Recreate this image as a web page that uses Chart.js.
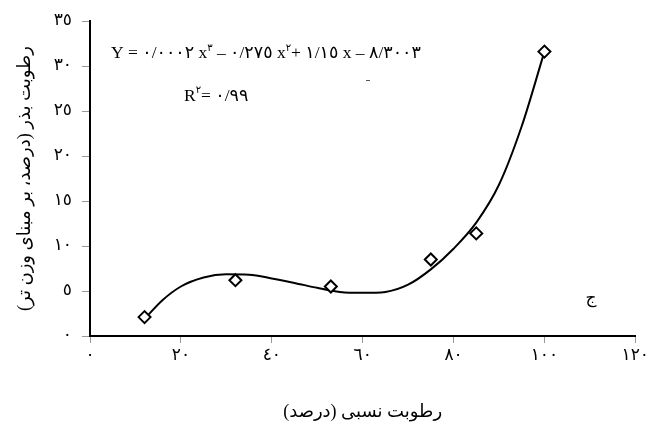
<!DOCTYPE html>
<html>
<head>
<meta charset="utf-8">
<script src="https://cdn.jsdelivr.net/npm/chart.js@4/dist/chart.umd.min.js"></script>
<style>
  html, body { margin: 0; padding: 0; background: #fff; }
  #wrap { width: 651px; height: 428px; }
</style>
</head>
<body>
<div id="wrap"><canvas id="chart"></canvas></div>
<script>
// measured points (relative humidity %, seed moisture %)
const pointX = [12, 32, 53, 75, 85, 100]
const pointY = [2.1, 6.2, 5.5, 8.5, 11.4, 31.6]

// fitted curve
const curveX = [12, 16, 20, 25, 30, 35, 40, 45, 50, 55, 60, 65, 70, 75, 80, 85, 90, 95, 100]
const curveY = [1.9, 4.0, 5.5, 6.5, 6.85, 6.8, 6.4, 5.9, 5.35, 4.9, 4.8, 4.9, 5.7, 7.4, 9.7, 12.6, 16.8, 23.3, 31.6]

// tick labels
const xTickValues = [0, 20, 40, 60, 80, 100, 120]
const xTickLabels = ["٠", "٢٠", "٤٠", "٦٠", "٨٠", "١٠٠", "١٢٠"]
const yTickValues = [0, 5, 10, 15, 20, 25, 30, 35]
const yTickLabels = ["٠", "٥", "١٠", "١٥", "٢٠", "٢٥", "٣٠", "٣٥"]

const xTitle = "رطوبت نسبی (درصد)"
const yTitle = "رطوبت بذر (درصد، بر مبنای وزن تر)"
const panelLabel = "ج"

const serif = '"Liberation Serif", "DejaVu Sans", serif'

function tickLabel(values, labels, v) {
  const i = values.indexOf(v)
  return i >= 0 ? labels[i] : ""
}

// equation and R² drawn over the plot
const annotations = {
  id: "annotations",
  afterDraw(chart) {
    const ctx = chart.ctx
    ctx.save()
    ctx.fillStyle = "#000"
    ctx.textBaseline = "alphabetic"
    ctx.textAlign = "left"
    ctx.direction = "ltr"

    const big = "17.5px " + serif
    const small = "10px " + serif
    const parts = [
      [big, "Y = ٠/٠٠٠٢ x", 0],
      [small, "٣", -7],
      [big, " – ٠/٢٧٥ x", 0],
      [small, "٢", -7],
      [big, "+ ١/١٥ x – ٨/٣٠٠٣", 0],
    ]
    let x = 111
    const base = 58
    parts.forEach(([f, t, dy]) => {
      ctx.font = f
      ctx.fillText(t, x, base + dy)
      x += ctx.measureText(t).width
    })

    const rParts = [
      [big, "R", 0],
      [small, "٢", -8],
      [big, "= ٠/٩٩", 0],
    ]
    x = 184
    const rBase = 101
    rParts.forEach(([f, t, dy]) => {
      ctx.font = f
      ctx.fillText(t, x, rBase + dy)
      x += ctx.measureText(t).width
    })

    ctx.fillStyle = "#555"
    ctx.fillRect(366, 80, 4, 1)

    ctx.fillStyle = "#000"
    ctx.font = "17px " + serif
    ctx.textAlign = "center"
    ctx.fillText(panelLabel, 591, 303)
    ctx.restore()
  },
}

const ctx = document.getElementById("chart").getContext("2d")
new Chart(ctx, {
  type: "scatter",
  data: {
    datasets: [
      {
        label: "points",
        data: pointX.map((x, i) => ({ x, y: pointY[i] })),
        pointStyle: "rectRot",
        pointRadius: 6,
        pointBorderWidth: 2,
        pointBorderColor: "#000",
        pointBackgroundColor: "#fff",
        showLine: false,
      },
      {
        label: "fit",
        data: curveX.map((x, i) => ({ x, y: curveY[i] })),
        showLine: true,
        borderColor: "#000",
        borderWidth: 2,
        pointRadius: 0,
        cubicInterpolationMode: "monotone",
      },
    ],
  },
  options: {
    responsive: true,
    maintainAspectRatio: false,
    animation: false,
    events: [],
    layout: { padding: { left: 0, top: 21, right: 15, bottom: 0 } },
    plugins: {
      legend: { display: false },
      tooltip: { enabled: false },
    },
    scales: {
      x: {
        type: "linear",
        min: 0,
        max: 120,
        afterBuildTicks: (scale) => {
          scale.ticks = xTickValues.map((v) => ({ value: v }))
        },
        afterFit: (scale) => {
          scale.height = 92
        },
        ticks: {
          color: "#000",
          font: { family: serif, size: 17 },
          padding: 2,
          maxRotation: 0,
          callback: (v) => tickLabel(xTickValues, xTickLabels, v),
        },
        grid: { drawOnChartArea: false, drawTicks: true, tickLength: 7, color: "#999" },
        border: { color: "#000", width: 2 },
        title: {
          display: true,
          text: xTitle,
          color: "#000",
          font: { family: serif, size: 18 },
          padding: { top: 0, bottom: 5 },
        },
      },
      y: {
        min: 0,
        max: 35,
        afterBuildTicks: (scale) => {
          scale.ticks = yTickValues.map((v) => ({ value: v }))
        },
        afterFit: (scale) => {
          scale.width = 90
        },
        ticks: {
          color: "#000",
          font: { family: serif, size: 17 },
          padding: 10,
          callback: (v) => tickLabel(yTickValues, yTickLabels, v),
        },
        grid: { drawOnChartArea: false, drawTicks: true, tickLength: 8, color: "#999" },
        border: { color: "#000", width: 2 },
        title: {
          display: true,
          text: yTitle,
          color: "#000",
          font: { family: serif, size: 18 },
          padding: { top: 14, bottom: 0 },
        },
      },
    },
  },
  plugins: [annotations],
})
</script>
</body>
</html>
